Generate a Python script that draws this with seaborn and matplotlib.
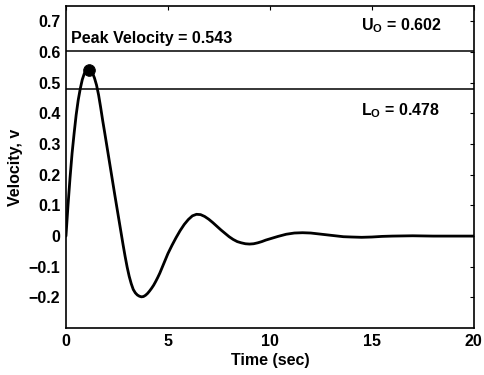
import numpy as np
import pandas as pd
import matplotlib
matplotlib.use("Agg")
import matplotlib.pyplot as plt
import seaborn as sns

# velocity curve
time_s = [0.0, 0.1, 0.2, 0.3, 0.4, 0.5, 0.6, 0.7, 0.8, 0.9, 1.0, 1.1, 1.2, 1.3, 1.4,
          1.5, 1.6, 1.7, 1.8, 1.9, 2.0, 2.1, 2.2, 2.3, 2.4, 2.5, 2.6, 2.7, 2.8, 2.9,
          3.0, 3.1, 3.2, 3.3, 3.4, 3.5, 3.6, 3.7, 3.8, 3.9, 4.0, 4.1, 4.2, 4.3, 4.4,
          4.5, 4.6, 4.7, 4.8, 4.9, 5.0, 5.2, 5.4, 5.6, 5.8, 6.0, 6.2, 6.4, 6.6, 6.8,
          7.0, 7.2, 7.4, 7.6, 7.8, 8.0, 8.2, 8.4, 8.6, 8.8, 9.0, 9.2, 9.4, 9.6, 9.8,
          10.0, 10.4, 10.8, 11.2, 11.6, 12.0, 12.4, 12.8, 13.2, 13.6, 14.0, 14.5,
          15.0, 15.5, 16.0, 17.0, 18.0, 19.0, 20.0]
velocity = [0.0, 0.10, 0.19, 0.27, 0.335, 0.395, 0.443, 0.48, 0.51, 0.53, 0.541, 0.543,
            0.541, 0.532, 0.515, 0.492, 0.46, 0.42, 0.377, 0.337, 0.296, 0.255, 0.214,
            0.173, 0.132, 0.092, 0.052, 0.012, -0.028, -0.066, -0.101, -0.131, -0.155,
            -0.174, -0.185, -0.192, -0.196, -0.198, -0.197, -0.193, -0.187, -0.179,
            -0.170, -0.160, -0.148, -0.135, -0.121, -0.105, -0.089, -0.073, -0.057,
            -0.03, -0.005, 0.018, 0.038, 0.054, 0.066, 0.071, 0.07, 0.064, 0.055,
            0.044, 0.032, 0.02, 0.009, -0.002, -0.011, -0.018, -0.022, -0.025,
            -0.026, -0.025, -0.022, -0.018, -0.013, -0.009, -0.001, 0.006, 0.010,
            0.011, 0.010, 0.007, 0.004, 0.001, -0.002, -0.003, -0.004, -0.003,
            -0.001, 0.0, 0.001, 0.0, 0.0, 0.0]

peak_t = [1.12]
peak_v = [0.543]
upper_lim = 0.602
lower_lim = 0.478

x_ticks = [0, 5, 10, 15, 20]
y_ticks = [-0.2, -0.1, 0, 0.1, 0.2, 0.3, 0.4, 0.5, 0.6, 0.7]
y_tick_labels = ['\u22120.2', '\u22120.1', '0', '0.1', '0.2', '0.3', '0.4', '0.5', '0.6', '0.7']

df = pd.DataFrame({'t': time_s, 'v': velocity})

sns.set_style("white")
plt.rcParams['font.family'] = ['Liberation Sans', 'DejaVu Sans']
plt.rcParams['font.weight'] = 'bold'
plt.rcParams['text.color'] = 'black'
plt.rcParams['axes.labelcolor'] = 'black'
plt.rcParams['xtick.color'] = 'black'
plt.rcParams['ytick.color'] = 'black'
plt.rcParams['mathtext.fontset'] = 'custom'
plt.rcParams['mathtext.bf'] = 'Liberation Sans:bold'
plt.rcParams['mathtext.rm'] = 'Liberation Sans:bold'

fs = 11.5
fig = plt.figure(figsize=(4.85, 3.75), dpi=100)
ax = fig.add_axes([0.136, 0.125, 0.841, 0.859])

sns.lineplot(data=df, x='t', y='v', color='black', linewidth=2.0, ax=ax)
ax.axhline(upper_lim, color='black', linewidth=1.1)
ax.axhline(lower_lim, color='black', linewidth=1.1)
sns.scatterplot(x=peak_t, y=peak_v, color='black', s=70, edgecolor='black', zorder=5, ax=ax)

ax.text(0.25, 0.63, 'Peak Velocity = %.3f' % peak_v[0], fontsize=fs, fontweight='bold', color='black')
ax.text(14.45, 0.672, r'$\mathrm{U_O}$ = %.3f' % upper_lim, fontsize=fs, fontweight='bold', color='black')
ax.text(14.45, 0.393, r'$\mathrm{L_O}$ = %.3f' % lower_lim, fontsize=fs, fontweight='bold', color='black')

ax.set_xlim(0, 20)
ax.set_ylim(-0.3, 0.75)
ax.set_xticks(x_ticks)
ax.set_yticks(y_ticks)
ax.set_yticklabels(y_tick_labels)
ax.tick_params(direction='in', length=3, width=0.8, top=True, right=True,
               labelsize=fs, colors='black', pad=4)
for lab in ax.get_xticklabels() + ax.get_yticklabels():
    lab.set_fontweight('bold')
for sp in ax.spines.values():
    sp.set_color('black')
    sp.set_linewidth(1.2)

ax.set_xlabel('Time (sec)', fontsize=fs, fontweight='bold', color='black', labelpad=3)
ax.set_ylabel('Velocity, v', fontsize=fs, fontweight='bold', color='black', labelpad=4)

fig.savefig('out.png', dpi=100)
